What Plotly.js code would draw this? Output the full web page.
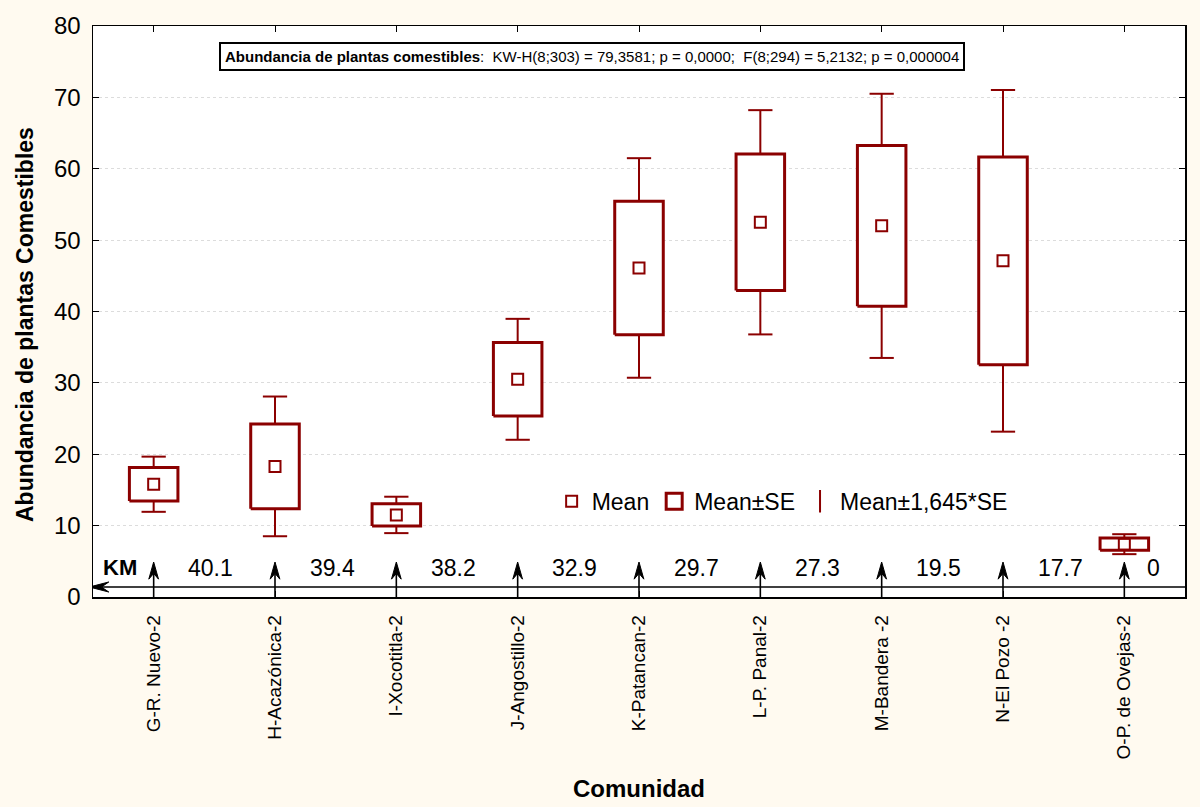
<!DOCTYPE html>
<html>
<head>
<meta charset="utf-8">
<script src="https://cdn.plot.ly/plotly-3.0.1.min.js"></script>
<style>
  html, body { margin: 0; padding: 0; background: #fffaf0; }
  #chart { width: 1200px; height: 807px; }
</style>
</head>
<body>
<div id="chart"></div>
<script>
// Communities sampled (x categories)
const comunidades = [
  'G-R. Nuevo-2', 'H-Acazónica-2', 'I-Xocotitla-2', 'J-Angostillo-2',
  'K-Patancan-2', 'L-P. Panal-2', 'M-Bandera -2', 'N-El Pozo -2', 'O-P. de Ovejas-2'
];
// Mean abundance of edible plants per community
const media = [15.8, 18.3, 11.5, 30.5, 46.1, 52.5, 52.0, 47.1, 7.4];
// Standard error of the mean
const errorEstandar = [2.35, 5.95, 1.55, 5.15, 9.35, 9.55, 11.25, 14.55, 0.85];
// Distance (km) shown along the gradient line
const distanciaKm = [40.1, 39.4, 38.2, 32.9, 29.7, 27.3, 19.5, 17.7, 0];

const rojo = '#8b0000';
const factor = 1.645;
const boxHalf = 0.2, capHalf = 0.1;
const fuente = 'Liberation Sans, Arial, sans-serif';

// Build box outlines, whiskers and caps from the statistics
const boxX = [], boxY = [], whX = [], whY = [];
media.forEach((m, i) => {
  const se = errorEstandar[i];
  const lo = m - se, hi = m + se;
  const wlo = m - factor * se, whi = m + factor * se;
  boxX.push(i - boxHalf, i + boxHalf, i + boxHalf, i - boxHalf, i - boxHalf, null);
  boxY.push(lo, lo, hi, hi, lo, null);
  // lower whisker + cap
  whX.push(i, i, null, i - capHalf, i + capHalf, null);
  whY.push(lo, wlo, null, wlo, wlo, null);
  // upper whisker + cap
  whX.push(i, i, null, i - capHalf, i + capHalf, null);
  whY.push(hi, whi, null, whi, whi, null);
});

const xIdx = comunidades.map((_, i) => i);

// Distance gradient: vertical arrows at each community and a leftward baseline arrow
const kmY = 1.4, arrowTop = 4.9, labelY = 4.1;
const headLen = 2.4, headNotch = 1.6, headHalf = 0.04;       // vertical arrowheads
const xMin = -0.5, xMax = 8.5;
const lineStart = xMin - 0.03, hLen = 0.16, hNotch = 0.1, hHalf = 0.7; // leftward arrowhead

const shaftX = [], shaftY = [], headX = [], headY = [];
xIdx.forEach(i => {
  shaftX.push(i, i, null);
  shaftY.push(0, arrowTop - headNotch, null);
  headX.push(i, i - headHalf, i, i + headHalf, i, null);
  headY.push(arrowTop, arrowTop - headLen, arrowTop - headNotch, arrowTop - headLen, arrowTop, null);
});
shaftX.push(lineStart + hNotch, xMax, null);
shaftY.push(kmY, kmY, null);
headX.push(lineStart, lineStart + hLen, lineStart + hNotch, lineStart + hLen, lineStart, null);
headY.push(kmY, kmY + hHalf, kmY, kmY - hHalf, kmY, null);

const traces = [
  {
    type: 'scatter', mode: 'lines', x: shaftX, y: shaftY,
    line: { color: '#000', width: 1.6 }, hoverinfo: 'skip',
    showlegend: false, cliponaxis: false
  },
  {
    type: 'scatter', mode: 'lines', x: headX, y: headY,
    fill: 'toself', fillcolor: '#000',
    line: { color: '#000', width: 1 }, hoverinfo: 'skip',
    showlegend: false, cliponaxis: false
  },
  {
    type: 'scatter', mode: 'lines', x: whX, y: whY,
    line: { color: rojo, width: 2 }, hoverinfo: 'skip',
    showlegend: false, cliponaxis: false
  },
  {
    type: 'scatter', mode: 'lines', x: boxX, y: boxY,
    fill: 'toself', fillcolor: '#ffffff',
    line: { color: rojo, width: 3 }, hoverinfo: 'skip', showlegend: false
  },
  {
    type: 'scatter', mode: 'markers', x: xIdx, y: media,
    marker: { symbol: 'square-open', size: 11, color: rojo, line: { width: 2, color: rojo } },
    name: 'Mean', legendrank: 1
  },
  // legend keys for the box and whisker elements
  {
    type: 'scatter', mode: 'markers', x: [null], y: [null],
    marker: { symbol: 'square-open', size: 19, color: rojo, line: { width: 3, color: rojo } },
    name: 'Mean±SE', legendrank: 2
  },
  {
    type: 'scatter', mode: 'markers', x: [null], y: [null],
    marker: { symbol: 'line-ns-open', size: 22, color: rojo, line: { width: 2, color: rojo } },
    name: 'Mean±1,645*SE', legendrank: 3
  }
];

const annotations = [];
annotations.push({
  x: -0.28, y: labelY, xref: 'x', yref: 'y', text: '<b>KM</b>', showarrow: false,
  font: { family: fuente, size: 22, color: '#000' }
});
distanciaKm.forEach((d, i) => {
  const pos = i < distanciaKm.length - 1 ? i + 0.47 : i + 0.24;
  annotations.push({
    x: pos, y: labelY, xref: 'x', yref: 'y', text: String(d), showarrow: false,
    font: { family: fuente, size: 23, color: '#000' }
  });
});
// Statistical test summary
annotations.push({
  x: 0.457, y: 0.9466, xref: 'paper', yref: 'paper', xanchor: 'center', yanchor: 'middle',
  showarrow: false,
  text: '<b>Abundancia de plantas comestibles</b>:  KW-H(8;303) = 79,3581; p = 0,0000;  F(8;294) = 5,2132; p = 0,000004',
  font: { family: fuente, size: 15, color: '#000' },
  bordercolor: '#000', borderwidth: 2, borderpad: 4, bgcolor: '#ffffff'
});
// Y axis title
annotations.push({
  x: -0.0623, y: 0.478, xref: 'paper', yref: 'paper', xanchor: 'center', yanchor: 'middle',
  textangle: -90, showarrow: false,
  text: '<b>Abundancia de plantas Comestibles</b>',
  font: { family: fuente, size: 23, color: '#000' }
});

const layout = {
  width: 1200, height: 807,
  paper_bgcolor: '#fffaf0', plot_bgcolor: '#ffffff',
  margin: { l: 93, r: 15, t: 26, b: 210 },
  font: { family: fuente, color: '#000' },
  xaxis: {
    range: [xMin, xMax], tickmode: 'array', tickvals: xIdx, ticktext: comunidades,
    tickangle: -90, tickfont: { size: 19 }, ticks: 'inside', ticklen: 6,
    tickcolor: '#000', showline: true, linecolor: '#000', linewidth: 1.5,
    mirror: 'ticks', showgrid: false, zeroline: false, ticklabelstandoff: 9,
    title: { text: '<b>Comunidad</b>', font: { size: 24 }, standoff: 22 }
  },
  yaxis: {
    range: [0, 80], dtick: 10, tickfont: { size: 24 }, ticks: 'inside', ticklen: 6,
    tickcolor: '#000', showline: true, linecolor: '#000', linewidth: 1.5,
    mirror: 'ticks', showgrid: true, gridcolor: '#dcdcdc', griddash: 'dot', gridwidth: 1,
    zeroline: false, ticklabelstandoff: 6
  },
  legend: {
    orientation: 'h', x: 0.42, y: 0.1675, xanchor: 'left', yanchor: 'middle',
    bgcolor: 'rgba(0,0,0,0)', font: { size: 23 }, traceorder: 'normal',
    itemwidth: 30
  },
  showlegend: true,
  annotations: annotations
};

Plotly.newPlot('chart', traces, layout, { displayModeBar: false, staticPlot: true });
</script>
</body>
</html>
